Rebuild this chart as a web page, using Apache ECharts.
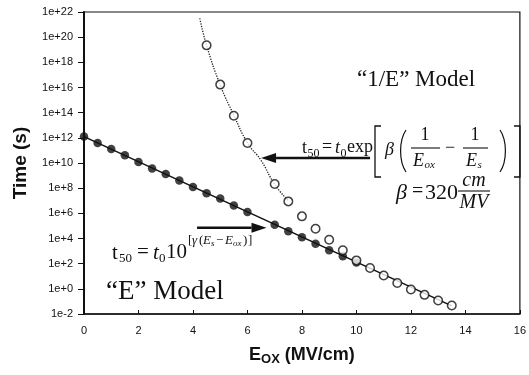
<!DOCTYPE html>
<html>
<head>
<meta charset="utf-8">
<script src="https://cdn.jsdelivr.net/npm/echarts@6/dist/echarts.min.js"></script>
<style>
  html, body { margin: 0; padding: 0; background: #fff; }
  #chart { width: 529px; height: 375px; }
</style>
</head>
<body>
<div id="chart"></div>
<script>
// Oxide field (MV/cm) and log10 of time-to-50%-failure (s)
const eModelField = [0, 0.5, 1, 1.5, 2, 2.5, 3, 3.5, 4, 4.5, 5, 5.5, 6, 7, 7.5, 8, 8.5, 9, 9.5, 10];
const eModelLogT  = [12.1, 11.59, 11.12, 10.61, 10.08, 9.57, 9.13, 8.60, 8.10, 7.59, 7.17, 6.63, 6.11, 5.10, 4.57, 4.09, 3.59, 3.06, 2.58, 2.10];

const invModelField = [4.5, 5, 5.5, 6, 7, 7.5, 8, 8.5, 9, 9.5, 10, 10.5, 11, 11.5, 12, 12.5, 13, 13.5];
const invModelLogT  = [19.35, 16.23, 13.76, 11.59, 8.33, 6.95, 5.76, 4.78, 3.90, 3.07, 2.26, 1.66, 1.06, 0.46, -0.05, -0.48, -0.93, -1.33];

// straight "E" model fit
const fitField = [0, 13.5];
const fitLogT  = [12.1, -1.35];

// dotted "1/E" model curve
const curveField = [4.25, 4.5, 5, 5.5, 6, 6.5, 7, 7.5];
const curveLogT  = [21.5, 19.35, 16.2, 13.8, 11.6, 10.2, 8.3, 7.0];

// annotation arrows: [fromField, fromLogT, toField, toLogT]
const arrows = [
  [10.5, 10.4, 6.5, 10.4],
  [4.15, 4.85, 6.7, 4.85]
];

// axis ranges
const xMin = 0, xMax = 16, xStep = 2;
const yMinExp = -2, yMaxExp = 22, yStepExp = 2;

const zip = (a, b) => a.map((v, i) => [v, b[i]]);

const SERIF = '"Liberation Serif", "Times New Roman", serif';
const SANS = '"Liberation Sans", Arial, Helvetica, sans-serif';
const INK = '#111';

function txt(text, x, y, size, extra) {
  extra = extra || {};
  return {
    type: 'text',
    x: x, y: y,
    style: {
      text: text,
      font: (extra.italic ? 'italic ' : '') + size + 'px ' + SERIF,
      fill: INK,
      textAlign: extra.align || 'left',
      textVerticalAlign: 'middle'
    },
    z: 10
  };
}
function bar(x1, x2, y) {
  return { type: 'line', shape: { x1: x1, y1: y, x2: x2, y2: y },
           style: { stroke: INK, lineWidth: 1.1 }, z: 10 };
}
// tall square bracket; dir = 1 opens right "[", -1 opens left "]"
function bracket(x, top, bottom, dir) {
  const w = 6 * dir;
  return { type: 'polyline', shape: { points: [[x + w, top], [x, top], [x, bottom], [x + w, bottom]] },
           style: { stroke: INK, lineWidth: 1.3, fill: null }, z: 10 };
}
// tall parenthesis; dir = 1 "(" , -1 ")"
function paren(x, top, bottom, dir) {
  const b = 6 * dir;
  return { type: 'bezierCurve',
           shape: { x1: x + b, y1: top, cpx1: x - b * 0.2, cpy1: top + (bottom - top) * 0.25,
                    cpx2: x - b * 0.2, cpy2: top + (bottom - top) * 0.75, x2: x + b, y2: bottom },
           style: { stroke: INK, lineWidth: 1.2, fill: null }, z: 10 };
}

const graphics = [
  // "1/E" model label and formula
  txt('\u201C1/E\u201D Model', 357, 80, 23),
  txt('t', 302, 148, 18),
  txt('50', 307.5, 154, 12),
  txt('=', 322, 147, 18),
  txt('t', 335, 148, 18, { italic: true }),
  txt('0', 340.5, 154, 12),
  txt('exp', 347, 147, 18),
  bracket(375, 126, 177, 1),
  txt('\u03B2', 385, 150, 18, { italic: true }),
  paren(400, 130, 172, 1),
  txt('1', 425, 135, 18, { align: 'center' }),
  bar(411, 440, 148),
  txt('E', 413, 161, 18, { italic: true }),
  txt('ox', 424.5, 165, 11, { italic: true }),
  txt('\u2212', 445, 148, 18),
  txt('1', 475, 135, 18, { align: 'center' }),
  bar(463, 488, 148),
  txt('E', 466, 161, 18, { italic: true }),
  txt('s', 477.5, 165, 11, { italic: true }),
  paren(506, 130, 172, -1),
  bracket(520, 126, 177, -1),
  // beta value
  txt('\u03B2', 396, 193, 22, { italic: true }),
  txt('=', 412, 192, 20),
  txt('320', 425, 193, 22),
  bar(458, 490, 191),
  txt('cm', 474, 181, 20, { italic: true, align: 'center' }),
  txt('MV', 474, 203, 20, { italic: true, align: 'center' }),
  // "E" model formula and label
  txt('t', 112, 253, 21),
  txt('50', 119, 259, 13),
  txt('=', 137, 252, 21),
  txt('t', 153, 253, 21, { italic: true }),
  txt('0', 159, 259, 13),
  txt('10', 166, 252, 21),
  txt('[', 188, 241, 13),
  txt('\u03B3', 192, 241, 13, { italic: true }),
  txt('(', 199, 241, 13),
  txt('E', 203, 241, 13, { italic: true }),
  txt('s', 211, 244, 9, { italic: true }),
  txt('\u2212', 216, 241, 13),
  txt('E', 225, 241, 13, { italic: true }),
  txt('ox', 233, 244, 9, { italic: true }),
  txt(')', 243, 241, 13),
  txt(']', 248, 241, 13),
  txt('\u201CE\u201D Model', 106, 292, 27)
];

const chart = echarts.init(document.getElementById('chart'), null, { renderer: 'canvas' });

chart.setOption({
  backgroundColor: '#fff',
  animation: false,
  grid: {
    left: 84, right: 7, top: 12, bottom: 61,
    show: true, borderColor: INK, borderWidth: 1.2, backgroundColor: 'transparent'
  },
  xAxis: {
    type: 'value', min: xMin, max: xMax, interval: xStep,
    axisLine: { show: true, onZero: false, lineStyle: { color: INK, width: 1.5 } },
    axisTick: { show: true, inside: true, length: 4, lineStyle: { color: INK } },
    axisLabel: { color: INK, fontSize: 11, fontFamily: SANS, margin: 11 },
    splitLine: { show: false },
    name: '{a|E}{b|OX}{a| (MV/cm)}',
    nameLocation: 'middle',
    nameGap: 32,
    nameTextStyle: {
      rich: {
        a: { fontFamily: SANS, fontWeight: 'bold', fontSize: 18, color: INK, lineHeight: 20, verticalAlign: 'top' },
        b: { fontFamily: SANS, fontWeight: 'bold', fontSize: 13, color: INK, lineHeight: 8, verticalAlign: 'bottom' }
      }
    }
  },
  yAxis: {
    type: 'value', min: yMinExp, max: yMaxExp, interval: yStepExp,
    axisLine: { show: true, onZero: false, lineStyle: { color: INK, width: 2 } },
    axisTick: { show: true, inside: false, length: 6, lineStyle: { color: INK } },
    axisLabel: {
      color: INK, fontSize: 11, fontFamily: SANS, margin: 11,
      formatter: v => (v >= 0 ? '1e+' + v : '1e' + v)
    },
    splitLine: { show: false },
    name: 'Time (s)',
    nameLocation: 'middle',
    nameGap: 54,
    nameTextStyle: { fontFamily: SANS, fontWeight: 'bold', fontSize: 19, color: INK }
  },
  series: [
    {
      name: 'E model fit', type: 'line', data: zip(fitField, fitLogT),
      symbol: 'none', lineStyle: { color: INK, width: 1.5 }, z: 2
    },
    {
      name: '1/E model', type: 'line', smooth: true, data: zip(curveField, curveLogT),
      symbol: 'none', lineStyle: { color: '#222', width: 1.3, type: 'dotted' }, z: 2
    },
    {
      name: 'E model data', type: 'scatter', data: zip(eModelField, eModelLogT),
      symbol: 'circle', symbolSize: 8.5, itemStyle: { color: INK }, z: 3
    },
    {
      name: '1/E model data', type: 'scatter', data: zip(invModelField, invModelLogT),
      symbol: 'circle', symbolSize: 8.5,
      itemStyle: { color: '#fff', borderColor: INK, borderWidth: 1.5 }, z: 4
    },
    {
      name: 'arrows', type: 'custom', data: arrows,
      encode: { x: [0, 2], y: [1, 3] },
      renderItem: function (params, api) {
        const p1 = api.coord([api.value(0), api.value(1)]);
        const p2 = api.coord([api.value(2), api.value(3)]);
        const dx = p2[0] - p1[0], dy = p2[1] - p1[1];
        const len = Math.sqrt(dx * dx + dy * dy);
        const ux = dx / len, uy = dy / len;
        const headL = 15, headW = 5;
        const bx = p2[0] - ux * headL, by = p2[1] - uy * headL;
        return {
          type: 'group',
          children: [
            { type: 'line', shape: { x1: p1[0], y1: p1[1], x2: bx, y2: by },
              style: { stroke: INK, lineWidth: 2.5 } },
            { type: 'polygon',
              shape: { points: [[p2[0], p2[1]], [bx - uy * headW, by + ux * headW], [bx + uy * headW, by - ux * headW]] },
              style: { fill: INK } }
          ]
        };
      },
      z: 5
    }
  ],
  graphic: graphics
});
</script>
</body>
</html>
